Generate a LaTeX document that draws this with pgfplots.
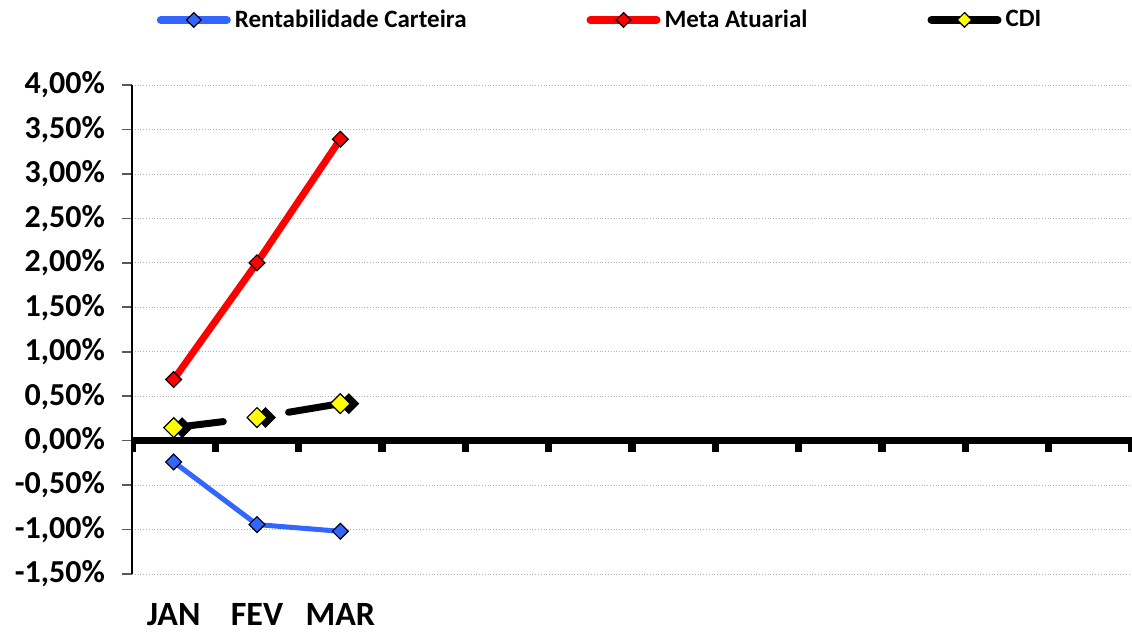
\documentclass[border=0pt]{standalone}
\usepackage{fontspec}
\setmainfont{Carlito}
\usepackage{pgfplots}
\pgfplotsset{compat=1.18}
\definecolor{rentblue}{RGB}{51,102,255}
\definecolor{cdiyellow}{RGB}{255,255,0}

\begin{document}
\begin{tikzpicture}
\begin{axis}[
    name=ax,
    scale only axis,
    width=500pt, height=244.5pt,
    xmin=-0.5, xmax=11.5,
    ymin=-1.5, ymax=4,
    axis x line*=bottom,
    x axis line style={draw=none},
    axis y line*=left,
    y axis line style={black, line width=0.8pt, -},
    xtick={0,1,2},
    xticklabels={JAN,FEV,MAR},
    major x tick style={draw=none},
    xticklabel style={font=\bfseries\fontsize{17}{20}\selectfont, yshift=-6pt},
    ytick={-1.5,-1,...,4},
    yticklabels={{-1,50\%},{-1,00\%},{-0,50\%},{0,00\%},{0,50\%},{1,00\%},{1,50\%},{2,00\%},{2,50\%},{3,00\%},{3,50\%},{4,00\%}},
    yticklabel style={font=\bfseries\fontsize{16}{19}\selectfont, xshift=-5pt},
    tick align=outside,
    major tick length=5pt,
    major y tick style={gray!70!black, line width=0.8pt},
    ymajorgrids,
    grid style={densely dotted, gray!60},
    legend columns=3,
    legend style={draw=none, fill=none, at={(0.469,1.133)}, anchor=center,
        font=\bfseries\fontsize{12.5}{14}\selectfont,
        /tikz/every even column/.append style={column sep=58pt}},
    legend image code/.code={
        \draw[#1, solid, line width=4pt, line cap=round, mark=none] (0pt,0pt) -- (33pt,0pt);
        \draw[#1, mark size=2.6pt] plot[only marks] coordinates {(16.5pt,0pt)};
    },
]
% zero line with its tick marks
\draw[black, line width=3.5pt] (axis cs:-0.5,0) -- (axis cs:11.5,0);
\pgfplotsinvokeforeach{-0.5,0.5,...,11.5}{
    \draw[black, line width=3.8pt] (axis cs:#1,0) -- ++(0pt,-5.5pt);
}

\addplot[rentblue, line width=2.5pt, mark=square*, mark size=2.8pt,
    mark options={rotate=45, fill=rentblue, draw=black, line width=0.6pt}]
    coordinates {(0,-0.24) (1,-0.944) (2,-1.02)};
\addlegendentry{Rentabilidade Carteira}

\addplot[red, line width=3.5pt, mark=square*, mark size=2.8pt,
    mark options={rotate=45, fill=red, draw=black, line width=0.6pt}]
    coordinates {(0,0.687) (1,2.0) (2,3.39)};
\addlegendentry{Meta Atuarial}

% shadow of the CDI markers
\addplot[only marks, forget plot, mark=square*, mark size=3.5pt,
    mark options={rotate=45, fill=black, draw=black, xshift=3pt, yshift=-3pt}]
    coordinates {(0,0.146) (1,0.26) (2,0.416)};

\addplot[black, line width=3.5pt, line cap=round, dash pattern=on 25pt off 33pt,
    mark=square*, mark size=3.5pt,
    mark options={solid, rotate=45, fill=cdiyellow, draw=black, line width=0.6pt}]
    coordinates {(0,0.146) (1,0.26) (2,0.416)};
\addlegendentry{CDI}
\end{axis}
\pgfresetboundingbox
\path ([xshift=-66pt,yshift=-29.5pt]ax.south west) rectangle ([yshift=42.5pt]ax.north east);
\end{tikzpicture}
\end{document}
